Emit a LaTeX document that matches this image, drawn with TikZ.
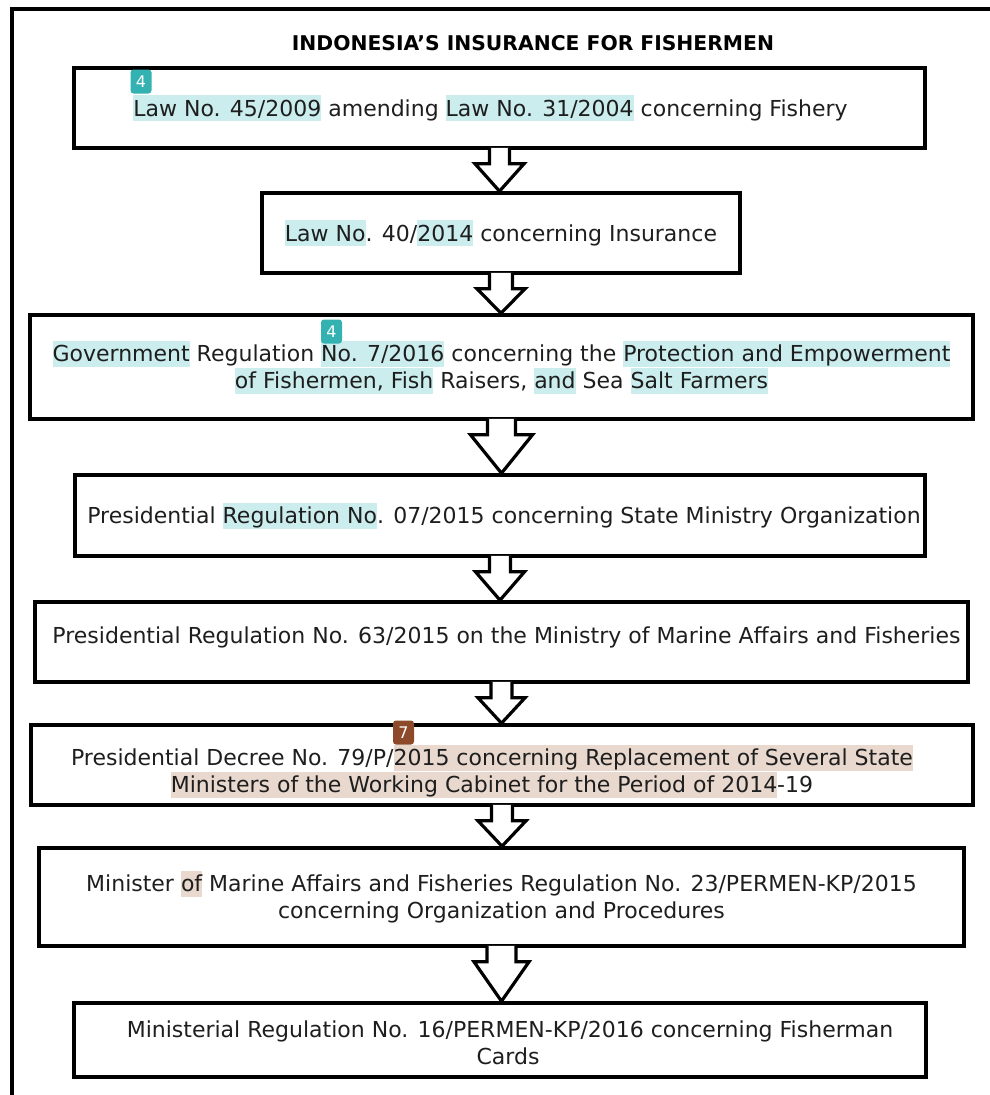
\documentclass[tikz,border=0pt]{standalone}
\usepackage{fontspec}
\setmainfont{DejaVu Sans}
\usepackage{tikz}
\usetikzlibrary{positioning, calc}

\definecolor{hlteal}{RGB}{203, 237, 237}
\definecolor{tagteal}{RGB}{52, 178, 178}
\definecolor{hlbrown}{RGB}{232, 216, 206}
\definecolor{tagbrown}{RGB}{140, 74, 42}
\definecolor{inkgray}{RGB}{30, 30, 30}

% highlighted words
\newcommand{\hlt}[1]{{\setlength{\fboxsep}{0pt}\colorbox{hlteal}{\rule[-5pt]{0pt}{26pt}#1}}}
\newcommand{\hlb}[1]{{\setlength{\fboxsep}{0pt}\colorbox{hlbrown}{\rule[-5pt]{0pt}{26pt}#1}}}

% hollow block arrow: from, to, half shaft, half head
\newcommand{\blockarrow}[4]{%
  \filldraw[flowarrow] let \p1=(#1.south), \p2=(#2.north) in
    (\x1-#3pt,\y1+2pt) -- (\x1-#3pt,\y1-14pt) -- (\x1-#4pt,\y1-14pt) -- (\x1,\y2)
    -- (\x1+#4pt,\y1-14pt) -- (\x1+#3pt,\y1-14pt) -- (\x1+#3pt,\y1+2pt)}

\tikzset{
  lawbox/.style={draw=black, line width=3.6pt, minimum height=80pt, align=center,
    font=\fontsize{22}{27}\selectfont, text=inkgray, inner sep=0pt},
  flowarrow/.style={draw=black, fill=white, line width=3.2pt, line join=miter},
  tag/.style={fill=#1, rounded corners=3pt, text=white, font=\fontsize{16}{16}\selectfont,
    minimum width=21pt, minimum height=24pt, inner sep=0pt}
}

\begin{document}
\begin{tikzpicture}[x=1pt, y=-1pt]
  \useasboundingbox (0,0) rectangle (989,1095);

  % frame and title
  \draw[line width=3.8pt] (12,1110) -- (12,9) -- (1000,9);
  \node[font=\fontsize{20.3}{21}\bfseries, anchor=base] (title) at (533,50) {INDONESIA’S INSURANCE FOR FISHERMEN};

  % regulation boxes
  \node[lawbox, minimum width=851pt] (box1) at (499.5,108)
    {\hspace*{-18pt}\hlt{Law No. 45/2009} amending \hlt{Law No. 31/2004} concerning Fishery};
  \node[lawbox, minimum width=478pt] (box2) at (501,233)
    {\hlt{Law No}. 40/\hlt{2014} concerning Insurance};
  \node[lawbox, minimum width=943pt, minimum height=104pt] (box3) at (501.5,367)
    {\hlt{Government} Regulation \hlt{No. 7/2016} concerning the \hlt{Protection and Empowerment}\\
     \hlt{of Fishermen, Fish} Raisers, \hlt{and} Sea \hlt{Salt Farmers}};
  \node[lawbox, minimum width=850pt, minimum height=81pt] (box4) at (500,515.5)
    {\hspace*{8pt}Presidential \hlt{Regulation No}. 07/2015 concerning State Ministry Organization};
  \node[lawbox, minimum width=933pt] (box5) at (501.5,642)
    {\hspace*{10pt}Presidential Regulation No. 63/2015 on the Ministry of Marine Affairs and Fisheries\rule[-13pt]{0pt}{13pt}};
  \node[lawbox, minimum width=942pt] (box6) at (502,765)
    {\hspace*{-20pt}\rule{0pt}{33pt}Presidential Decree No. 79/P/\hlb{2015 concerning Replacement of Several State}\\
     \hspace*{-20pt}\hlb{Ministers of the Working Cabinet for the Period of 2014}-19};
  \node[lawbox, minimum width=925pt, minimum height=98pt] (box7) at (501.5,897)
    {Minister \hlb{of} Marine Affairs and Fisheries Regulation No. 23/PERMEN-KP/2015\\
     concerning Organization and Procedures};
  \node[lawbox, minimum width=852pt, minimum height=74pt] (box8) at (500,1040)
    {\hspace*{20pt}\rule{0pt}{22pt}Ministerial Regulation No. 16/PERMEN-KP/2016 concerning Fisherman\\
     \hspace*{16pt}Cards};

  % arrows between boxes
  \foreach \a/\b/\s/\h in {box1/box2/10/24.5, box2/box3/11.5/24, box3/box4/14/31,
      box4/box5/10.5/24.5, box5/box6/10.5/23.5, box6/box7/10.5/24, box7/box8/14.5/27.5}
    \blockarrow{\a}{\b}{\s}{\h};

  % note tags
  \node[tag=tagteal] (tag1) at (141,81.5) {4};
  \node[tag=tagteal] (tag2) at (331.5,331.5) {4};
  \node[tag=tagbrown] (tag3) at (403.5,732.5) {7};
\end{tikzpicture}
\end{document}
